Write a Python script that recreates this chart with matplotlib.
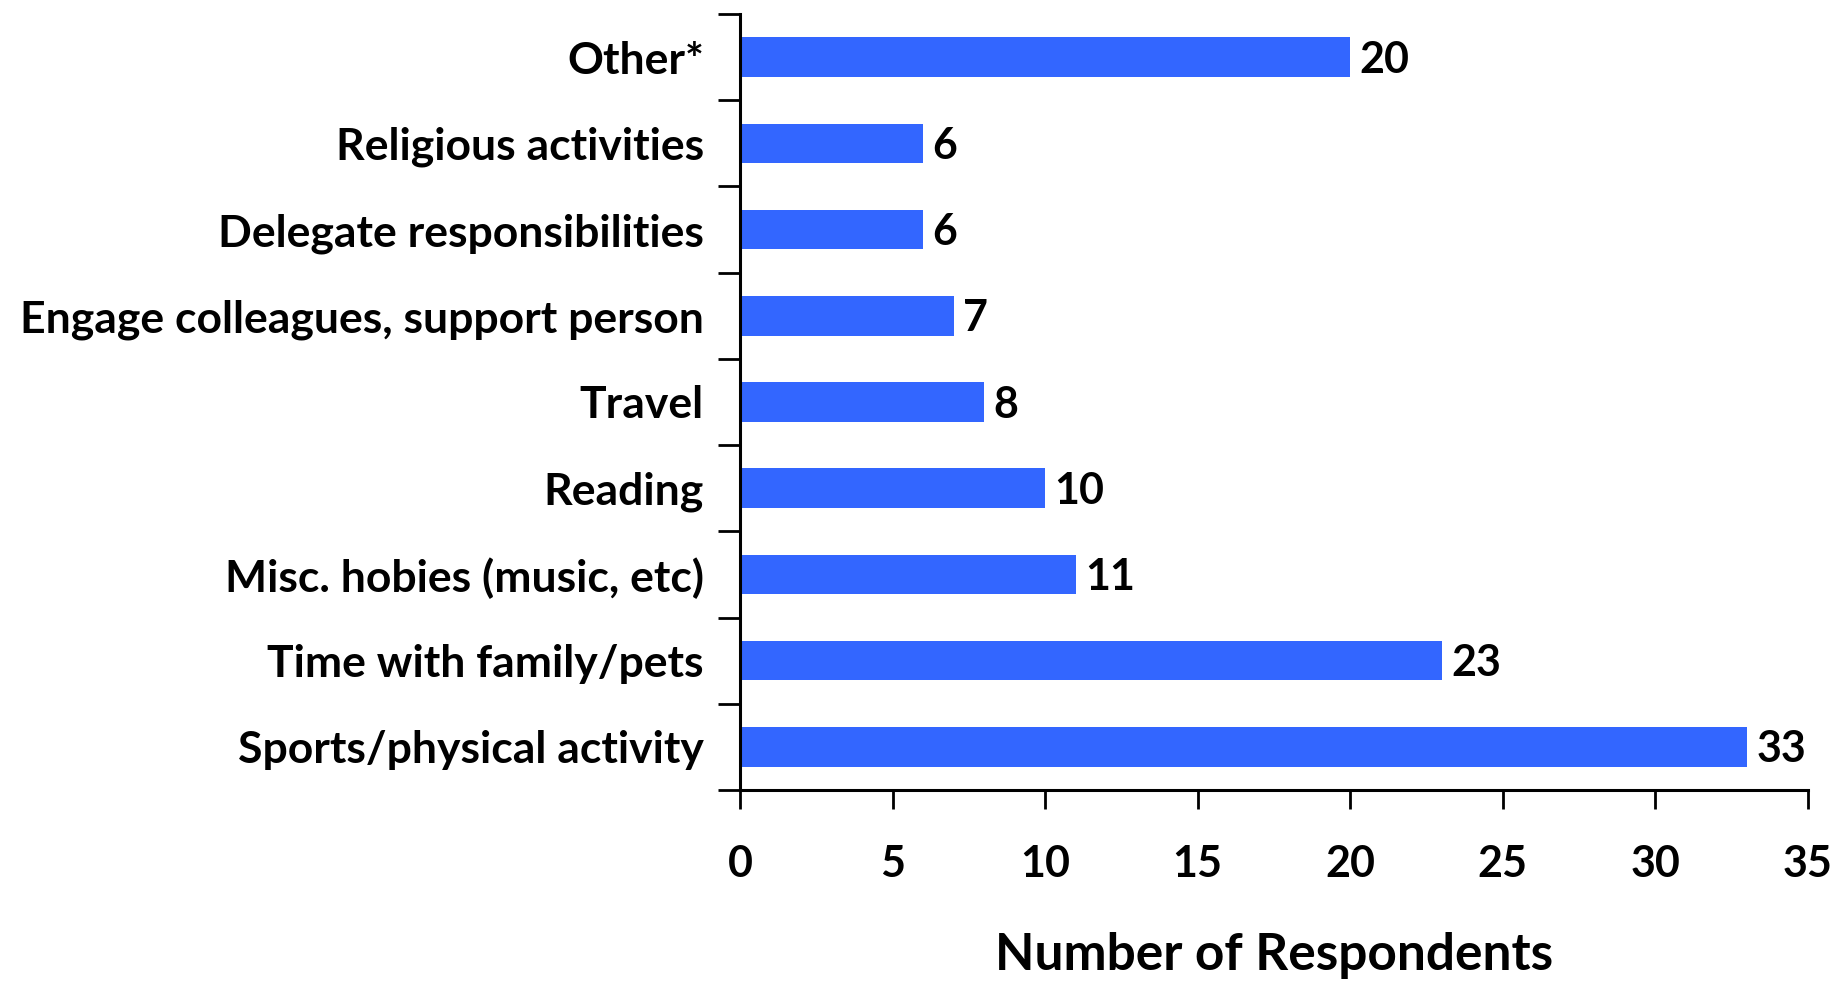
import matplotlib
matplotlib.use("Agg")
import matplotlib.pyplot as plt
import numpy as np

# Coping strategies reported by respondents
categories = [
    "Sports/physical activity",
    "Time with family/pets",
    "Misc. hobies (music, etc)",
    "Reading",
    "Travel",
    "Engage colleagues, support person",
    "Delegate responsibilities",
    "Religious activities",
    "Other*",
]
counts = [33, 23, 11, 10, 8, 7, 6, 6, 20]
x_ticks = [0, 5, 10, 15, 20, 25, 30, 35]

plt.rcParams["font.family"] = ["Lato", "DejaVu Sans"]
plt.rcParams["font.weight"] = "bold"

fig = plt.figure(figsize=(18.33, 9.82), dpi=100)
ax = fig.add_axes([740 / 1833, 1 - 790 / 982, (1808 - 740) / 1833, (790 - 14) / 982])

y = np.arange(len(categories))
ax.barh(y, counts, height=0.46, color="#3366FF")
for yi, v in zip(y, counts):
    ax.text(v + 0.3, yi - 0.03, str(v), va="center", ha="left",
            fontsize=31, fontweight="bold")

ax.set_xlim(0, 35)
ax.set_ylim(-0.5, len(categories) - 0.5)
ax.set_xticks(x_ticks)
ax.set_xticklabels([str(t) for t in x_ticks], fontsize=31, fontweight="bold")
ax.tick_params(axis="x", direction="out", length=14, width=2, pad=25)

# category labels on major ticks, boundary marks on minor ticks
ax.set_yticks(y)
ax.set_yticklabels(categories, fontsize=32, fontweight="bold")
ax.set_yticks(np.arange(-0.5, len(categories)), minor=True)
ax.tick_params(axis="y", which="major", length=0, pad=26)
ax.tick_params(axis="y", which="minor", direction="out", length=16, width=2)

ax.set_xlabel("Number of Respondents", fontsize=37, fontweight="bold", va="center")
ax.xaxis.set_label_coords(0.5, -0.213)

for side in ("top", "right"):
    ax.spines[side].set_visible(False)
for side in ("left", "bottom"):
    ax.spines[side].set_linewidth(2.2)

fig.savefig("out.png", dpi=100, facecolor="white")
